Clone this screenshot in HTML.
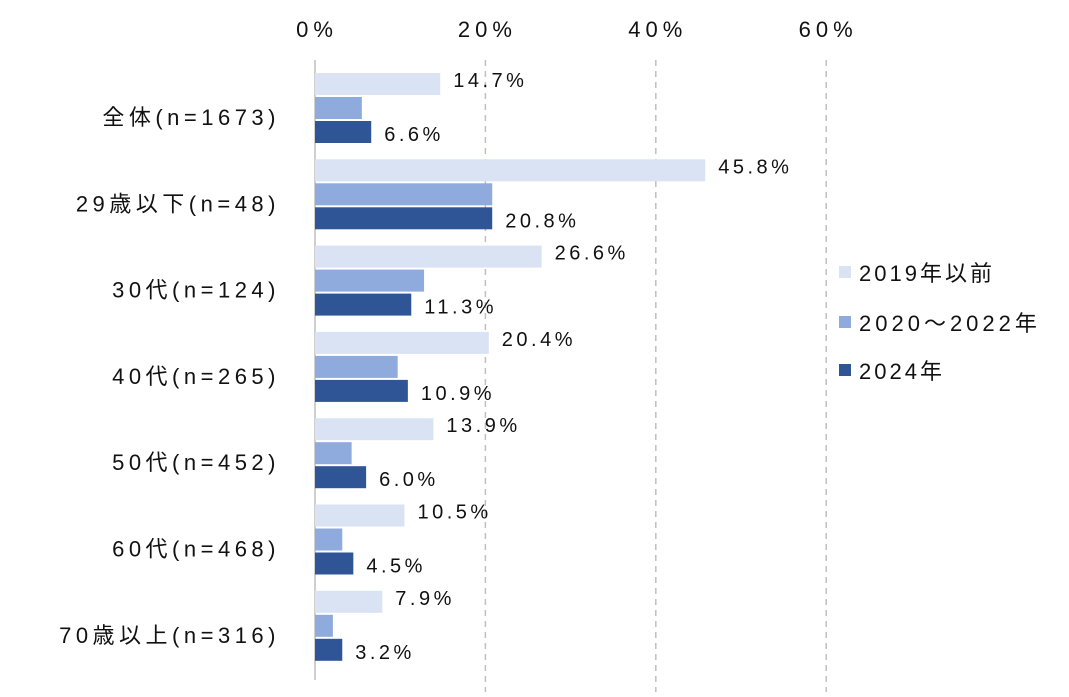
<!DOCTYPE html>
<html><head><meta charset="utf-8"><style>
body{margin:0;background:#fff;}
svg text{font-family:"Liberation Sans","Noto Sans CJK JP",sans-serif;fill:#111;}
</style></head><body>
<svg id="chart" width="1069" height="692" viewBox="0 0 1069 692" xmlns="http://www.w3.org/2000/svg">
<g id="grid"></g><g id="bars"></g><g id="labels"></g>
<g id="legend">
<rect x="839" y="266" width="12" height="12" fill="#dae3f3"/>
<text x="859" y="281" font-size="22" letter-spacing="3">2019年以前</text>
<rect x="839" y="316" width="12" height="12" fill="#8faadc"/>
<text x="859" y="331" font-size="22" letter-spacing="4">2020～2022年</text>
<rect x="839" y="364" width="12" height="12" fill="#2f5597"/>
<text x="859" y="379" font-size="22" letter-spacing="3">2024年</text>
</g>
</svg>
<script>
const categories=["全体(n=1673)","29歳以下(n=48)","30代(n=124)","40代(n=265)","50代(n=452)","60代(n=468)","70歳以上(n=316)"];
const s2019=[14.7,45.8,26.6,20.4,13.9,10.5,7.9];
const s2020=[5.5,20.8,12.8,9.7,4.3,3.2,2.1];
const s2024=[6.6,20.8,11.3,10.9,6.0,4.5,3.2];
const ticks=[0,20,40,60];
const NS="http://www.w3.org/2000/svg";
const x=v=>315+v*8.52;
const groupY=i=>73+i*86.3;
function mk(tag,attrs,parent){const e=document.createElementNS(NS,tag);for(const k in attrs)e.setAttribute(k,attrs[k]);parent.appendChild(e);return e;}
const grid=document.getElementById('grid'),bars=document.getElementById('bars'),labels=document.getElementById('labels');
ticks.forEach(t=>{
  if(t>0){const l=mk('line',{x1:x(t),x2:x(t),y1:60,y2:692,stroke:'#bfbfbf','stroke-width':1.5,'stroke-dasharray':'6,5'},grid);
  
  }
  const tx=mk('text',{x:x(t)+2,y:37,'font-size':22,'text-anchor':'middle','letter-spacing':5},labels);
  tx.textContent=t+'%';
  
  
});
const ax=mk('line',{x1:315,x2:315,y1:60,y2:680,stroke:'#bfbfbf','stroke-width':1.5},grid);


const series=[[s2019,'#dae3f3',true],[s2020,'#8faadc',false],[s2024,'#2f5597',true]];
categories.forEach((c,i)=>{
  const gy=groupY(i);
  const ct=mk('text',{x:280,y:gy+44+8,'font-size':22,'text-anchor':'end','letter-spacing':4.5},labels);
  ct.textContent=c;
  
  
  series.forEach(([arr,col,lab],j)=>{
    const y=gy+j*24;
    const r=mk('rect',{x:315,y:y,width:x(arr[i])-315,height:22,fill:col},bars);
    
    
    if(lab){const t=mk('text',{x:x(arr[i])+13,y:y+16 -(j==0?2:-4),'font-size':20,'letter-spacing':3.5},labels);
      t.textContent=arr[i].toFixed(1)+'%';
      
      }
  });
});
</script>
</body></html>
